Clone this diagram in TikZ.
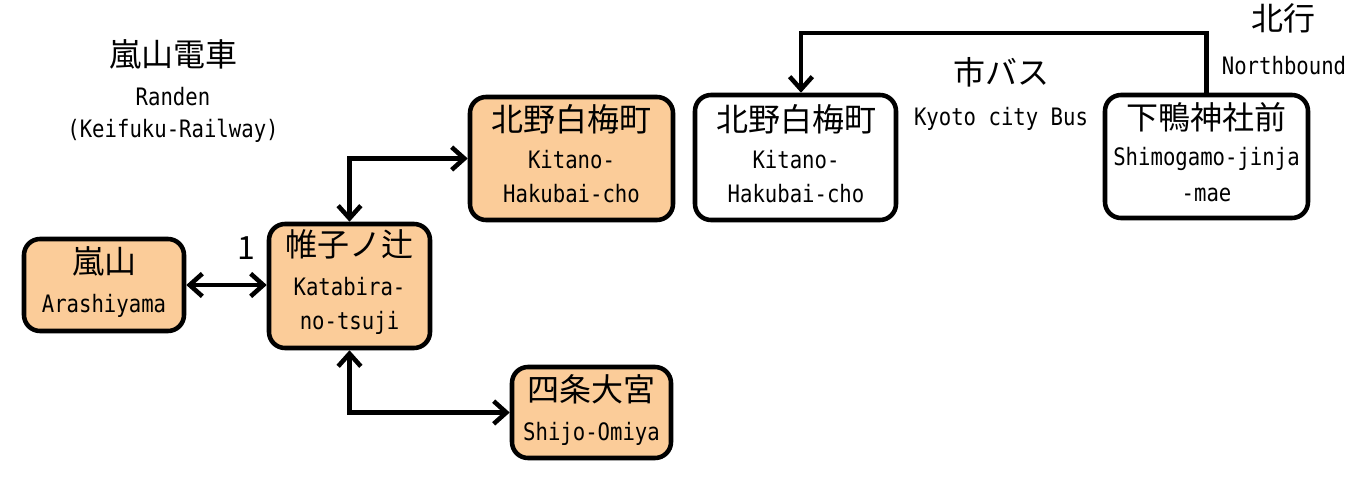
\documentclass[tikz,border=0pt]{standalone}
\usepackage{fontspec}
\newfontfamily\cjk{Noto Sans CJK JP}
\newfontfamily\lat[FakeStretch=0.86]{DejaVu Sans Mono}
\usetikzlibrary{arrows.meta}
\definecolor{peach}{RGB}{251,204,153}
\tikzset{
  box/.style={draw=black, line width=3.4pt, rounded corners=12pt, inner sep=0pt},
  rail/.style={box, fill=peach},
  bus/.style={box, fill=white},
  jp/.style={font=\cjk\fontsize{24}{28}\selectfont, inner sep=0pt, text height=0.88em, text depth=0.12em},
  en/.style={font=\lat\fontsize{18}{20}\selectfont, inner sep=0pt, text height=0.73em, text depth=0pt},
  conn/.style={line width=3.4pt, line join=miter},
  barb/.tip={Straight Barb[length=9.5pt, width=17pt, line width=3.4pt]}
}
\begin{document}
\begin{tikzpicture}[x=0.75pt, y=-0.75pt]
\useasboundingbox (0,0) rectangle (1372,478);
% boxes
\node[rail, minimum width=120pt, minimum height=69pt] (A) at (104,285) {};
\node[rail, minimum width=120.75pt, minimum height=93pt] (K) at (349.5,286) {};
\node[rail, minimum width=152.25pt, minimum height=92.25pt] (Kt) at (571.5,158.5) {};
\node[rail, minimum width=119.25pt, minimum height=68.25pt] (S) at (591.5,412.5) {};
\node[bus, minimum width=150.75pt, minimum height=93.75pt] (Kw) at (795.5,157.5) {};
\node[bus, minimum width=152.25pt, minimum height=92.25pt] (Sm) at (1206.5,156.5) {};
% box texts
\node[jp] (A1) at (104,268) {嵐山};
\node[en] (A2) at (104,308) {Arashiyama};
\node[jp] (K1) at (349.5,251) {帷子ノ辻};
\node[en] (K2) at (349.5,291) {Katabira-};
\node[en] (K3) at (349.5,325) {no-tsuji};
\node[jp] (Kt1) at (571.5,126) {北野白梅町};
\node[en] (Kt2) at (571.5,164) {Kitano-};
\node[en] (Kt3) at (571.5,197.5) {Hakubai-cho};
\node[jp] (S1) at (591.5,396) {四条大宮};
\node[en] (S2) at (591.5,436) {Shijo-Omiya};
\node[jp] (Kw1) at (796,126) {北野白梅町};
\node[en] (Kw2) at (796,164) {Kitano-};
\node[en] (Kw3) at (796,197.5) {Hakubai-cho};
\node[jp] (Sm1) at (1206.5,124) {下鴨神社前};
\node[en] (Sm2) at (1206.5,161) {Shimogamo-jinja};
\node[en] (Sm3) at (1206.5,197) {-mae};
% labels
\node[jp] (T1) at (173,61) {嵐山電車};
\node[en] (T2) at (173,101) {Randen};
\node[en] (T3) at (173,133) {(Keifuku-Railway)};
\node[jp] (B1) at (1001,79) {市バス};
\node[en] (B2) at (1001,121) {Kyoto city Bus};
\node[jp] (N1) at (1283,25) {北行};
\node[en] (N2) at (1284,70) {Northbound};
\node[jp] (L1) at (246,254) {1};
% connectors
\draw[conn, {barb}-{barb}] (A) -- (A -| K.west);
\draw[conn, {barb}-{barb}] (K.north) |- (Kt.west);
\draw[conn, {barb}-{barb}] (K.south) |- (S.west);
\coordinate (bt) at (801,33);
\draw[conn, -{barb}] (Sm.north) |- (bt) -- (bt |- Kw.north);
\end{tikzpicture}
\end{document}
